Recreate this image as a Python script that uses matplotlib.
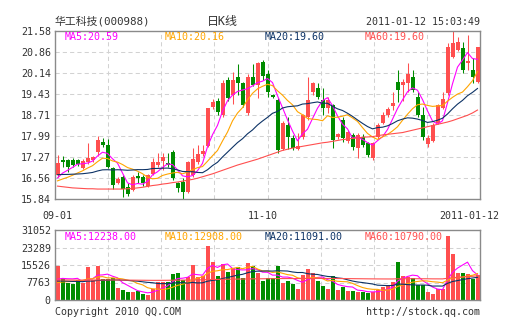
import matplotlib.pyplot as plt
import numpy as np
import pandas as pd

plt.rcParams['font.family'] = ['DejaVu Sans Mono', 'Noto Sans CJK SC']

# daily candles, 2010-09-01 .. 2011-01-12
open_ = [16.66, 17.18, 17.18, 17.18, 17.18, 16.90, 17.10, 17.17, 17.45, 17.80,
         17.69, 16.90, 16.39, 16.60, 16.25, 16.15, 16.62, 16.60, 16.28, 16.69,
         17.00, 17.14, 17.06, 17.46, 16.40, 16.43, 16.09, 16.66, 17.12, 17.37,
         17.66, 18.97, 19.20, 18.71, 19.91, 19.39, 20.02, 19.79, 18.77, 20.00,
         19.73, 20.52, 20.10, 19.39, 19.22, 17.55, 18.37, 17.91, 17.55, 17.95,
         18.65, 19.51, 19.62, 19.22, 18.94, 19.05, 17.95, 18.54, 17.83, 18.03,
         17.57, 17.97, 17.74, 17.23, 17.97, 18.43, 18.71, 19.02, 19.85, 19.73,
         19.80, 20.02, 19.34, 18.71, 17.72, 17.83, 18.43, 18.94, 19.47, 20.70,
         20.93, 20.99, 20.48, 20.25, 19.85]
high = [17.34, 17.31, 17.20, 17.25, 17.22, 17.20, 17.75, 17.32, 18.00, 17.92,
        17.88, 16.95, 16.60, 16.65, 16.40, 16.65, 16.75, 16.65, 16.70, 17.23,
        17.40, 17.40, 17.40, 17.50, 16.42, 16.55, 17.15, 17.57, 17.68, 17.68,
        18.96, 19.25, 19.28, 19.90, 20.00, 20.19, 20.45, 19.85, 20.10, 20.45,
        20.53, 20.58, 20.25, 19.42, 19.30, 18.50, 18.65, 18.03, 18.08, 18.75,
        20.00, 19.85, 19.80, 19.62, 19.34, 19.10, 18.10, 18.65, 18.20, 18.10,
        18.10, 18.05, 17.80, 17.80, 18.45, 18.80, 19.00, 19.51, 20.25, 19.95,
        20.48, 20.25, 19.51, 18.99, 18.03, 18.45, 19.10, 19.51, 21.16, 21.58,
        21.39, 21.22, 21.44, 20.65, 21.04]
low = [16.60, 16.93, 16.76, 16.95, 16.98, 16.88, 17.05, 17.10, 17.30, 17.60,
       16.90, 16.18, 16.35, 15.90, 15.95, 16.10, 16.40, 16.30, 16.25, 16.65,
       16.95, 16.83, 16.94, 16.50, 16.09, 15.78, 16.05, 16.60, 17.05, 17.30,
       17.60, 18.90, 18.71, 18.65, 19.20, 19.10, 19.39, 19.00, 18.71, 19.70,
       19.28, 19.90, 19.33, 19.30, 17.40, 17.50, 17.55, 17.51, 17.50, 17.90,
       18.55, 19.40, 19.25, 18.71, 18.77, 17.57, 17.90, 17.80, 17.75, 17.51,
       17.23, 17.60, 17.29, 17.17, 17.90, 18.40, 18.65, 18.88, 19.17, 19.20,
       19.50, 19.51, 18.65, 17.86, 17.60, 17.80, 18.40, 18.90, 19.40, 20.65,
       20.88, 20.13, 20.25, 19.79, 19.80]
close = [17.07, 17.12, 16.93, 17.00, 17.03, 17.14, 17.24, 17.27, 17.86, 17.68,
         16.94, 16.32, 16.52, 16.18, 16.00, 16.60, 16.55, 16.40, 16.66, 17.12,
         17.12, 17.29, 17.00, 16.55, 16.23, 16.09, 17.12, 17.21, 17.38, 17.49,
         18.94, 19.17, 18.80, 19.79, 19.28, 19.91, 19.79, 19.05, 20.02, 19.75,
         20.48, 20.03, 19.50, 19.33, 17.51, 18.43, 17.97, 17.57, 17.65, 18.71,
         19.22, 19.79, 19.34, 18.94, 19.22, 17.86, 18.05, 17.91, 18.14, 17.63,
         18.03, 17.68, 17.34, 17.74, 18.37, 18.71, 18.90, 19.11, 19.56, 19.85,
         20.10, 19.56, 18.71, 17.97, 17.91, 18.37, 19.05, 19.26, 21.04, 21.16,
         21.22, 20.25, 20.54, 20.02, 21.04]
volume = [15080, 9610, 7390, 7100, 8870, 7700, 14500, 8870, 15080, 9460,
          9460, 9900, 5320, 4440, 3550, 3550, 3990, 2660, 2220, 4730,
          8130, 8130, 8130, 11380, 11830, 8870, 10060, 15380, 10060, 10650,
          23950, 16850, 10650, 15970, 12420, 14050, 14490, 9760, 16270, 15080,
          12000, 8570, 9610, 9900, 15080, 7690, 8570, 7100, 5030, 10940,
          13600, 11830, 8570, 6210, 4730, 10650, 4440, 5620, 4140, 3990,
          3700, 3400, 3250, 3550, 4440, 5920, 6650, 7840, 17000, 10650,
          10060, 9610, 6500, 6500, 3550, 2660, 5030, 5030, 28390, 20400,
          11830, 11830, 11530, 9460, 11090]

# the 19 sessions before 09-01, needed for the 5/10/20 day averages
close_before = [16.95, 16.90, 16.85, 16.90, 16.95, 16.85, 16.80, 16.85, 16.90, 16.85,
                16.50, 16.35, 16.30, 16.25, 16.40, 16.30, 16.45, 16.50, 16.48]
volume_before = [9800, 8600, 9400, 8900, 10200, 8700, 9300, 9100, 8800, 9000,
                 6500, 5900, 6300, 5800, 6400, 7600, 8100, 7400, 7720]

# 60 day averages
ma60 = [16.28, 16.26, 16.24, 16.22, 16.21, 16.20, 16.19, 16.19, 16.18, 16.18,
        16.18, 16.18, 16.18, 16.18, 16.19, 16.20, 16.22, 16.24, 16.27, 16.30,
        16.32, 16.35, 16.37, 16.40, 16.42, 16.45, 16.48, 16.51, 16.55, 16.60,
        16.65, 16.70, 16.76, 16.82, 16.88, 16.94, 17.00, 17.05, 17.10, 17.15,
        17.20, 17.26, 17.32, 17.38, 17.44, 17.50, 17.54, 17.58, 17.61, 17.64,
        17.67, 17.70, 17.73, 17.76, 17.78, 17.81, 17.84, 17.87, 17.89, 17.91,
        17.93, 17.95, 17.96, 17.97, 18.00, 18.03, 18.05, 18.07, 18.09, 18.11,
        18.15, 18.19, 18.23, 18.27, 18.31, 18.35, 18.39, 18.43, 18.47, 18.52,
        18.58, 18.64, 18.70, 18.78, 18.88]
vol_ma60 = [8900, 8880, 8870, 8850, 8840, 8830, 8850, 8870, 8890, 8900,
            8900, 8890, 8870, 8850, 8820, 8800, 8780, 8760, 8740, 8720,
            8720, 8730, 8750, 8780, 8800, 8830, 8860, 8900, 8930, 8960,
            9050, 9100, 9130, 9170, 9200, 9240, 9280, 9300, 9340, 9380,
            9400, 9420, 9440, 9450, 9500, 9510, 9520, 9520, 9510, 9520,
            9550, 9570, 9570, 9560, 9540, 9550, 9530, 9510, 9490, 9470,
            9440, 9420, 9390, 9370, 9350, 9340, 9330, 9330, 9400, 9420,
            9430, 9440, 9440, 9430, 9410, 9380, 9370, 9360, 9650, 9900,
            10050, 10200, 10350, 10500, 10790]

price_ticks = [15.84, 16.56, 17.27, 17.99, 18.71, 19.43, 20.14, 20.86, 21.58]
volume_ticks = [0, 7763, 15526, 23289, 31052]
date_labels = ['09-01', '11-10', '2011-01-12']
date_index = [0, 41, 84]

price_legend = ['MA5:20.59', 'MA10:20.16', 'MA20:19.60', 'MA60:19.60']
volume_legend = ['MA5:12238.00', 'MA10:12908.00', 'MA20:11091.00', 'MA60:10790.00']
ma_colors = ['#ff00ff', '#ffa500', '#0d3366', '#ff4f4f']

RED = '#ff4f4f'
GREEN = '#008c00'
TXT = '#333333'

n = len(close)
x = np.arange(n) + 0.5
o = np.array(open_)
c = np.array(close)
up = c >= o
cols = np.where(up, RED, GREEN)

nb = len(close_before)
cs = pd.Series(close_before + close)
vs = pd.Series(volume_before + volume)
price_ma = [cs.rolling(k).mean().values[nb:] for k in (5, 10, 20)] + [np.array(ma60)]
vol_ma = [vs.rolling(k).mean().values[nb:] for k in (5, 10, 20)] + [np.array(vol_ma60)]

W, H = 505, 330
fig = plt.figure(figsize=(W / 100, H / 100), dpi=100)


def px_axes(l, t, r, b):
    return fig.add_axes([l / W, 1 - b / H, (r - l) / W, (b - t) / H])


ax = px_axes(55, 31, 480, 199)
axv = px_axes(55, 230, 480, 300)

for a in (ax, axv):
    a.set_xlim(0, n)
    for s in a.spines.values():
        s.set_color('#8a8a8a')
        s.set_linewidth(1.0)
    a.tick_params(length=0, labelsize=7.2, colors=TXT, pad=3)
    a.set_xticks([])
    for k in range(1, 8):
        a.axvline(n * k / 8, color='#d2d2d2', lw=0.75, ls=(0, (4, 3)), zorder=0)

# price panel
ax.set_ylim(price_ticks[0], price_ticks[-1])
ax.set_yticks(price_ticks)
ax.set_yticklabels(['%.2f' % v for v in price_ticks])
for v in price_ticks[1:-1]:
    ax.axhline(v, color='#d2d2d2', lw=0.75, ls=(0, (4, 3)), zorder=0)

ax.vlines(x, low, high, colors=cols, lw=0.75, zorder=2)
body = np.maximum(np.abs(c - o), 0.02)
ax.bar(x, body, bottom=np.minimum(o, c), width=0.8, color=cols, lw=0, zorder=3)
for line, col in zip(price_ma, ma_colors):
    ax.plot(x, line, color=col, lw=0.8, zorder=4)

for k, (t, col) in enumerate(zip(price_legend, ma_colors)):
    ax.text((10 + 100 * k) / 425, 1 - 6 / 168, t, transform=ax.transAxes,
            color=col, fontsize=7.2, va='center', ha='left')

# volume panel
axv.set_ylim(volume_ticks[0], volume_ticks[-1])
axv.set_yticks(volume_ticks)
axv.set_yticklabels([str(v) for v in volume_ticks])
for v in volume_ticks[1:-1]:
    axv.axhline(v, color='#d2d2d2', lw=0.75, ls=(0, (4, 3)), zorder=0)
axv.bar(x, volume, width=0.8, color=cols, lw=0, zorder=2)
for line, col in zip(vol_ma, ma_colors):
    axv.plot(x, line, color=col, lw=0.8, zorder=4)

for k, (t, col) in enumerate(zip(volume_legend, ma_colors)):
    axv.text((10 + 100 * k) / 425, 1 - 7 / 70, t, transform=axv.transAxes,
             color=col, fontsize=7.2, va='center', ha='left')

# date labels under the price panel
for lab, i in zip(date_labels[:2], date_index[:2]):
    fig.text((55 + 5 * (i + 0.5)) / W, 1 - 216 / H, lab, color=TXT,
             fontsize=7.2, ha='center', va='center')
fig.text(499 / W, 1 - 216 / H, date_labels[2], color=TXT,
         fontsize=7.2, ha='right', va='center')

# header and footer
fig.text(55 / W, 1 - 21.5 / H, '华工科技(000988)', color=TXT, fontsize=7.8,
         ha='left', va='center')
fig.text(207 / W, 1 - 21.5 / H, '日K线', color=TXT, fontsize=8.6,
         ha='left', va='center')
fig.text(480 / W, 1 - 22 / H, '2011-01-12 15:03:49', color=TXT, fontsize=7.2,
         ha='right', va='center')
fig.text(55 / W, 1 - 312 / H, 'Copyright 2010 QQ.COM', color=TXT, fontsize=7.2,
         ha='left', va='center')
fig.text(480 / W, 1 - 312 / H, 'http://stock.qq.com', color=TXT, fontsize=7.2,
         ha='right', va='center')

fig.savefig('out.png', dpi=100)
